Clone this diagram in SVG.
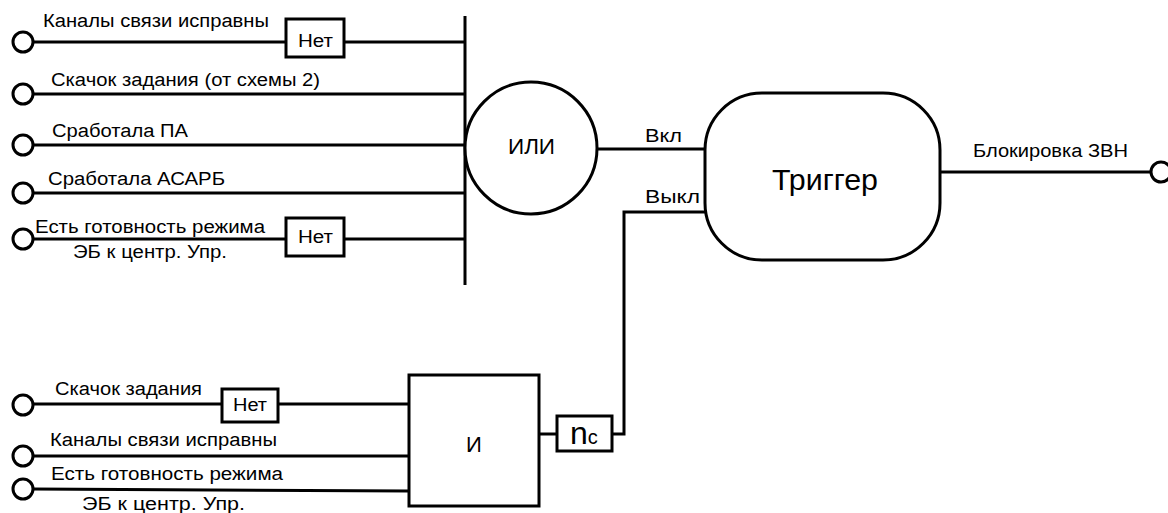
<svg xmlns="http://www.w3.org/2000/svg" width="1168" height="513" viewBox="0 0 1168 513">
<style>
  .ln { stroke: #000; stroke-width: 3; fill: none; }
  .sh { stroke: #000; stroke-width: 3; fill: #fff; }
  .term { stroke: #000; stroke-width: 3; fill: #fff; }
  text { font-family: "Liberation Sans", Arial, sans-serif; fill: #000; }
  .lbl { font-size: 18px; }
</style>
<rect width="1168" height="513" fill="#fff"/>
<g id="connectors">
  <line class="ln" x1="33" y1="42" x2="286" y2="42"/>
  <line class="ln" x1="344" y1="42" x2="465" y2="42"/>
  <line class="ln" x1="33" y1="94" x2="465" y2="94"/>
  <line class="ln" x1="33" y1="145" x2="465" y2="145"/>
  <line class="ln" x1="33" y1="193" x2="465" y2="193"/>
  <line class="ln" x1="33" y1="239" x2="286" y2="239"/>
  <line class="ln" x1="344" y1="239" x2="465" y2="239"/>
  <line class="ln" x1="465" y1="16" x2="465" y2="285"/>
  <line class="ln" x1="597" y1="149" x2="705" y2="149"/>
  <polyline class="ln" points="705,212 624,212 624,434 612,434"/>
  <line class="ln" x1="940" y1="172" x2="1151" y2="172"/>
  <line class="ln" x1="33" y1="404" x2="222" y2="404"/>
  <line class="ln" x1="278" y1="404" x2="409" y2="404"/>
  <line class="ln" x1="33" y1="456" x2="409" y2="456"/>
  <line class="ln" x1="33" y1="489" x2="409" y2="491"/>
  <line class="ln" x1="539" y1="434" x2="557" y2="434"/>
</g>
<g id="in1"><circle class="term" cx="23" cy="42" r="10"/><text class="lbl" x="43" y="27" textLength="226" lengthAdjust="spacingAndGlyphs">Каналы связи исправны</text></g>
<g id="in2"><circle class="term" cx="23" cy="94" r="10"/><text class="lbl" x="51" y="86" textLength="269" lengthAdjust="spacingAndGlyphs">Скачок задания (от схемы 2)</text></g>
<g id="in3"><circle class="term" cx="23" cy="145" r="10"/><text class="lbl" x="52" y="137" textLength="136" lengthAdjust="spacingAndGlyphs">Сработала ПА</text></g>
<g id="in4"><circle class="term" cx="23" cy="193" r="10"/><text class="lbl" x="48" y="185" textLength="177" lengthAdjust="spacingAndGlyphs">Сработала АСАРБ</text></g>
<g id="in5"><circle class="term" cx="23" cy="239" r="10"/><text class="lbl" x="35" y="233" textLength="230" lengthAdjust="spacingAndGlyphs">Есть готовность режима</text><text class="lbl" x="73" y="258" textLength="154" lengthAdjust="spacingAndGlyphs">ЭБ к центр. Упр.</text></g>
<g id="not1"><rect class="sh" x="286" y="19" width="58" height="38"/><text class="lbl" x="298" y="47" textLength="35" lengthAdjust="spacingAndGlyphs">Нет</text></g>
<g id="not2"><rect class="sh" x="286" y="218" width="58" height="38"/><text class="lbl" x="298" y="243" textLength="35" lengthAdjust="spacingAndGlyphs">Нет</text></g>
<g id="or"><circle class="sh" cx="531" cy="148" r="66" stroke-width="2.5"/><text x="508" y="154" font-size="22" textLength="47" lengthAdjust="spacingAndGlyphs">ИЛИ</text></g>
<g id="lbl-on"><text class="lbl" x="645" y="142" textLength="37" lengthAdjust="spacingAndGlyphs">Вкл</text></g>
<g id="lbl-off"><text class="lbl" x="645" y="203" textLength="55" lengthAdjust="spacingAndGlyphs">Выкл</text></g>
<g id="trigger"><rect class="sh" x="705" y="93" width="235" height="167" rx="57" ry="57"/><text x="772" y="190" font-size="30" textLength="106" lengthAdjust="spacingAndGlyphs">Триггер</text></g>
<g id="out"><circle class="term" cx="1161" cy="172" r="10"/><text class="lbl" x="973" y="157" textLength="155" lengthAdjust="spacingAndGlyphs">Блокировка ЗВН</text></g>
<g id="b1"><circle class="term" cx="23" cy="405" r="10"/><text class="lbl" x="55" y="395" textLength="147" lengthAdjust="spacingAndGlyphs">Скачок задания</text></g>
<g id="not3"><rect class="sh" x="222" y="389" width="56" height="33"/><text class="lbl" x="233" y="411" textLength="34" lengthAdjust="spacingAndGlyphs">Нет</text></g>
<g id="b2"><circle class="term" cx="23" cy="456" r="10"/><text class="lbl" x="50" y="446" textLength="227" lengthAdjust="spacingAndGlyphs">Каналы связи исправны</text></g>
<g id="b3"><circle class="term" cx="23" cy="489" r="10"/><text class="lbl" x="51" y="480" textLength="232" lengthAdjust="spacingAndGlyphs">Есть готовность режима</text><text class="lbl" x="82" y="510" textLength="163" lengthAdjust="spacingAndGlyphs">ЭБ к центр. Упр.</text></g>
<g id="and"><rect class="sh" x="409" y="375" width="130" height="131"/><text x="466" y="452" font-size="22">И</text></g>
<g id="nc"><rect class="sh" x="557" y="416" width="55" height="35"/><text x="570" y="444" font-size="32">n<tspan font-size="20">c</tspan></text></g>
</svg>
